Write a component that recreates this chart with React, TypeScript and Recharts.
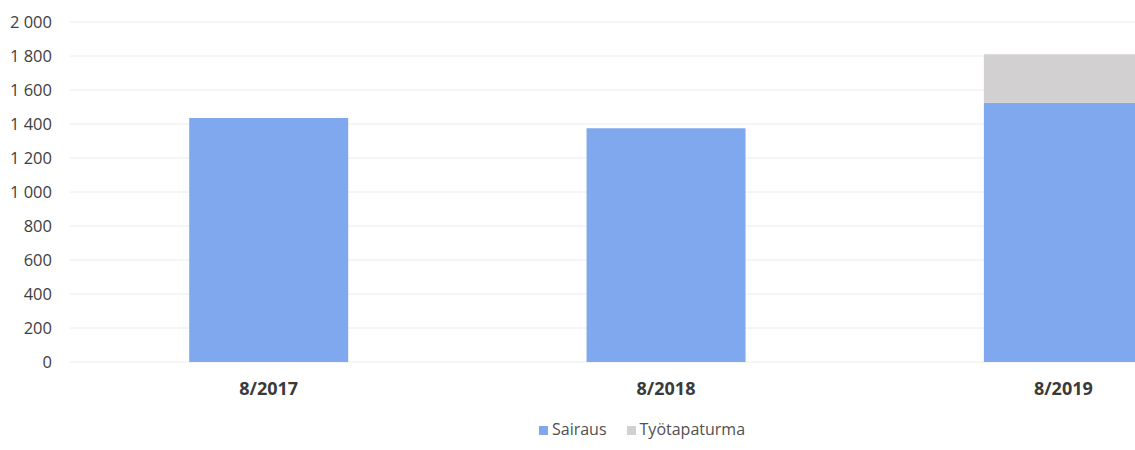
import { BarChart, Bar, XAxis, YAxis, CartesianGrid, Legend } from 'recharts';

const months = ['8/2017', '8/2018', '8/2019'];
const sairaus = [1435, 1375, 1525];
const tyotapaturma = [0, 0, 285];
const yTicks = [0, 200, 400, 600, 800, 1000, 1200, 1400, 1600, 1800, 2000];

const chartData = months.map((m, i) => ({ month: m, sairaus: sairaus[i], tyotapaturma: tyotapaturma[i] }));

const fmt = (v: number) => v.toLocaleString('en-US').replace(/,/g, ' ');

export default function App() {
  return (
    <div style={{ position: 'absolute', left: 0, top: 0, width: 1135, height: 450, overflow: 'hidden', background: '#fff', fontFamily: '"Open Sans", sans-serif' }}>
      <BarChart width={1262} height={450} data={chartData} margin={{ top: 22, right: 0, left: 0, bottom: 6 }} barCategoryGap="30%">
        <CartesianGrid vertical={false} stroke="#ececec" />
        <XAxis
          dataKey="month"
          axisLine={false}
          tickLine={false}
          tickSize={0}
          tickMargin={20}
          height={56}
          tick={{ fill: '#3a3a3a', fontSize: 18, fontWeight: 700 }}
        />
        <YAxis
          domain={[0, 2000]}
          ticks={yTicks}
          tickFormatter={fmt}
          axisLine={false}
          tickLine={false}
          tickSize={0}
          tickMargin={18}
          width={70}
          tick={{ fill: '#404040', fontSize: 16.5 }}
        />
        <Legend
          iconType="square"
          iconSize={9}
          height={26}
          wrapperStyle={{ paddingLeft: 21 }}
          formatter={(value) => <span style={{ color: '#505050', fontSize: 16, marginRight: 10 }}>{value}</span>}
        />
        <Bar dataKey="sairaus" name="Sairaus" stackId="a" fill="#80a8ee" isAnimationActive={false} />
        <Bar dataKey="tyotapaturma" name="Työtapaturma" stackId="a" fill="#d2d0d0" isAnimationActive={false} />
      </BarChart>
    </div>
  );
}
